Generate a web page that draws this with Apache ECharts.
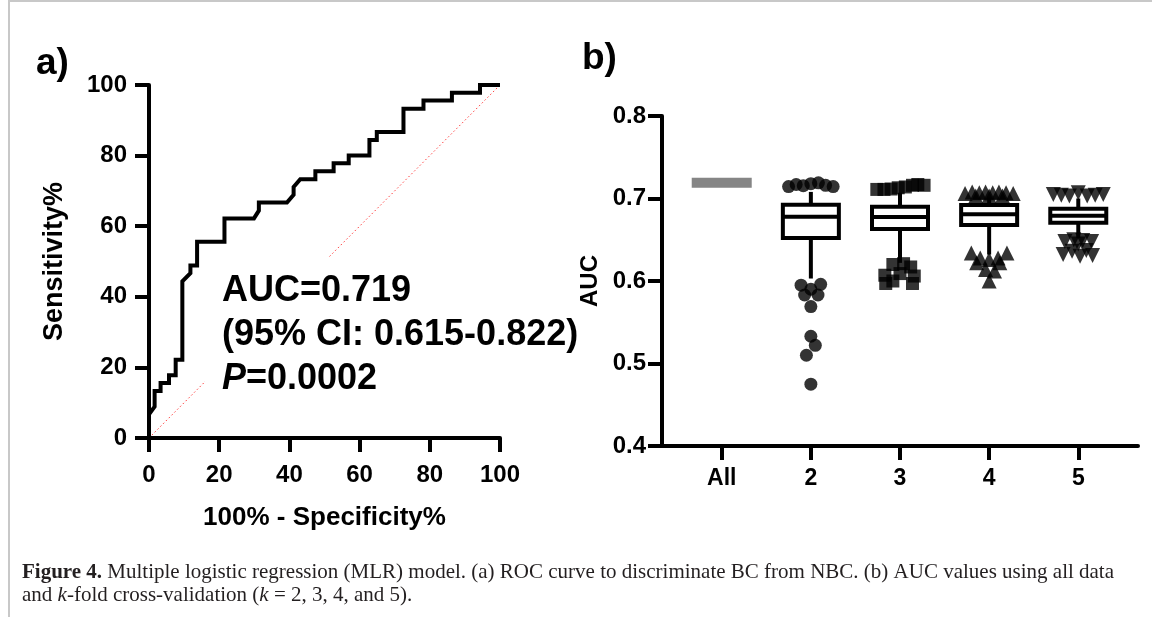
<!DOCTYPE html>
<html>
<head>
<meta charset="utf-8">
<script src="https://cdn.jsdelivr.net/npm/echarts@6.0.0/dist/echarts.min.js"></script>
<style>
  html, body { margin: 0; padding: 0; background: #fff; }
  #chart { width: 1152px; height: 617px; }
</style>
</head>
<body>
<div id="chart"></div>
<script>
// panel a: ROC curve, 100% - specificity vs sensitivity
const rocFpr = [0, 0, 1.6, 1.6, 3.3, 3.3, 5.7, 5.7, 7.6, 7.6, 9.5, 9.5, 11.8, 11.8, 13.7, 13.7,
  21.5, 21.5, 29.9, 31.3, 31.3, 39.3, 41.2, 41.2, 43.1, 47.4, 47.4, 52.6, 52.6, 56.9, 56.9,
  62.8, 62.8, 64.9, 64.9, 72.5, 72.5, 78.2, 78.2, 86.3, 86.3, 94.3, 94.3, 100];
const rocTpr = [0, 6.7, 8.9, 13.3, 13.3, 15.6, 15.6, 17.8, 17.8, 22.2, 22.2, 44.4, 46.7, 48.9, 48.9, 55.6,
  55.6, 62.2, 62.2, 64.4, 66.7, 66.7, 68.9, 71.1, 73.3, 73.3, 75.6, 75.6, 77.8, 77.8, 80,
  80, 84.4, 84.4, 86.7, 86.7, 93.3, 93.3, 95.6, 95.6, 97.8, 97.8, 100, 100];
const chanceLine = [0, 100];

// panel b: AUC, all data and k-fold cross-validation
const foldLabels = ['All', '2', '3', '4', '5'];
const allAuc = 0.719;
const boxK = [2, 3, 4, 5];
// [whisker low, Q1, median, Q3, whisker high]
const boxStats = [
  [0.603, 0.652, 0.678, 0.6925, 0.708],
  [0.622, 0.663, 0.6777, 0.690, 0.707],
  [0.632, 0.668, 0.681, 0.692, 0.701],
  [0.652, 0.6705, 0.679, 0.6875, 0.700]
];
// outliers as [x, AUC] (x = fold position with scatter spread)
const out2 = [[1.75, 0.7145], [1.835, 0.717], [1.915, 0.7155], [2, 0.718], [2.085, 0.719], [2.165, 0.716], [2.25, 0.7145],
  [1.89, 0.595], [2.11, 0.596], [1.93, 0.583], [2.08, 0.583], [2, 0.590], [2, 0.569], [2, 0.533], [2.05, 0.522], [1.95, 0.510], [2, 0.475]];
const out3 = [[2.74, 0.711], [2.82, 0.711], [2.9, 0.7115], [2.98, 0.713], [3.06, 0.714], [3.14, 0.716], [3.2, 0.717], [3.27, 0.716],
  [2.92, 0.620], [3.04, 0.621], [3.12, 0.617], [2.83, 0.607], [3, 0.609], [3.16, 0.606], [2.84, 0.597], [3.14, 0.597], [2.92, 0.600]];
const out4 = [[3.73, 0.706], [3.81, 0.708], [3.89, 0.707], [3.96, 0.708], [4.04, 0.707], [4.11, 0.708], [4.19, 0.707], [4.27, 0.706],
  [3.85, 0.703], [4, 0.703], [4.15, 0.703],
  [3.8, 0.634], [4.2, 0.634], [3.9, 0.628], [4.1, 0.628], [4, 0.626], [3.86, 0.622], [4.12, 0.622], [3.96, 0.614], [4.06, 0.612], [4, 0.600]];
const out5 = [[4.72, 0.705], [4.81, 0.704], [4.9, 0.703], [5, 0.707], [5.1, 0.703], [5.19, 0.704], [5.28, 0.705],
  [4.85, 0.648], [4.95, 0.650], [5.05, 0.649], [5.15, 0.648], [5, 0.645],
  [4.83, 0.632], [5.02, 0.630], [5.16, 0.631], [4.93, 0.636], [5.09, 0.637]];

const FONT = 'Liberation Sans, Arial, sans-serif';
const SERIF = 'Liberation Serif, Times New Roman, serif';
const axisLine = {show: true, onZero: false, lineStyle: {color: '#000', width: 4}};
const axisTick = {show: true, length: 14, lineStyle: {color: '#000', width: 4}};
const tickLabel = {color: '#000', fontSize: 24, fontWeight: 'bold', fontFamily: FONT};

const chart = echarts.init(document.getElementById('chart'));
chart.setOption({
  animation: false,
  backgroundColor: '#fff',
  grid: [
    {left: 149, right: 652, top: 85, bottom: 179},
    {left: 662, right: 14, top: 116, bottom: 171}
  ],
  xAxis: [
    {
      gridIndex: 0, type: 'value', min: 0, max: 100, interval: 20,
      axisLine: axisLine, axisTick: axisTick, splitLine: {show: false},
      axisLabel: Object.assign({margin: 25}, tickLabel),
      name: '100% - Specificity%', nameLocation: 'middle', nameGap: 67,
      nameTextStyle: {color: '#000', fontSize: 26, fontWeight: 'bold', fontFamily: FONT}
    },
    {
      gridIndex: 1, type: 'value', min: 0.33, max: 5.67,
      axisLine: axisLine, splitLine: {show: false},
      axisTick: Object.assign({customValues: foldLabels.map((_, i) => i + 1)}, axisTick),
      axisLabel: Object.assign({
        margin: 21,
        customValues: foldLabels.map((_, i) => i + 1),
        formatter: v => foldLabels[Math.round(v) - 1]
      }, tickLabel, {fontSize: 23})
    }
  ],
  yAxis: [
    {
      gridIndex: 0, type: 'value', min: 0, max: 100, interval: 20,
      axisLine: axisLine, axisTick: axisTick, splitLine: {show: false},
      axisLabel: Object.assign({margin: 22}, tickLabel),
      name: 'Sensitivity%', nameLocation: 'middle', nameGap: 81,
      nameTextStyle: {color: '#000', fontSize: 27, fontWeight: 'bold', fontFamily: FONT}
    },
    {
      gridIndex: 1, type: 'value', min: 0.4, max: 0.8, interval: 0.1,
      axisLine: axisLine, axisTick: axisTick, splitLine: {show: false},
      axisLabel: Object.assign({margin: 16}, tickLabel),
      name: 'AUC', nameLocation: 'middle', nameGap: 60, nameMoveOverlap: false,
      nameTextStyle: {color: '#000', fontSize: 24, fontWeight: 'bold', fontFamily: FONT}
    }
  ],
  series: [
    {
      type: 'line', xAxisIndex: 0, yAxisIndex: 0, z: 1,
      data: chanceLine.map(v => [v, v]),
      symbol: 'none', lineStyle: {color: '#ff3b3b', width: 1, type: [1.5, 2.5]}
    },
    {
      type: 'line', xAxisIndex: 0, yAxisIndex: 0, z: 3,
      data: rocFpr.map((x, i) => [x, rocTpr[i]]),
      symbol: 'none', lineStyle: {color: '#000', width: 4, join: 'miter'}
    },
    {
      type: 'scatter', xAxisIndex: 1, yAxisIndex: 1,
      data: [[1, allAuc]], symbol: 'rect', symbolSize: [60, 10],
      itemStyle: {color: '#666'}
    },
    {
      type: 'custom', xAxisIndex: 1, yAxisIndex: 1, clip: false,
      data: boxK.map((k, i) => [k].concat(boxStats[i])),
      renderItem: function (params, api) {
        const x = api.value(0);
        const lo = api.coord([x, api.value(1)]);
        const q1 = api.coord([x, api.value(2)]);
        const md = api.coord([x, api.value(3)]);
        const q3 = api.coord([x, api.value(4)]);
        const hi = api.coord([x, api.value(5)]);
        const w = 56;
        const st = {stroke: '#000', lineWidth: 4, fill: '#fff'};
        return {
          type: 'group', children: [
            {type: 'line', shape: {x1: lo[0], y1: lo[1], x2: q1[0], y2: q1[1]}, style: st},
            {type: 'line', shape: {x1: q3[0], y1: q3[1], x2: hi[0], y2: hi[1]}, style: st},
            {type: 'rect', shape: {x: q3[0] - w / 2, y: q3[1], width: w, height: q1[1] - q3[1]}, style: st},
            {type: 'line', shape: {x1: md[0] - w / 2, y1: md[1], x2: md[0] + w / 2, y2: md[1]}, style: st}
          ]
        };
      }
    },
    {type: 'scatter', xAxisIndex: 1, yAxisIndex: 1, z: 4, data: out2, symbol: 'circle', symbolSize: 13, itemStyle: {color: '#000'}},
    {type: 'scatter', xAxisIndex: 1, yAxisIndex: 1, z: 4, data: out3, symbol: 'rect', symbolSize: 13, itemStyle: {color: '#000'}},
    {type: 'scatter', xAxisIndex: 1, yAxisIndex: 1, z: 4, data: out4, symbol: 'triangle', symbolSize: 15, itemStyle: {color: '#000'}},
    {type: 'scatter', xAxisIndex: 1, yAxisIndex: 1, z: 4, data: out5, symbol: 'triangle', symbolRotate: 180, symbolSize: 15, itemStyle: {color: '#000'}}
  ],
  graphic: [
    {type: 'line', shape: {x1: 9, y1: 0, x2: 9, y2: 617}, style: {stroke: '#c8c8c8', lineWidth: 2}},
    {type: 'line', shape: {x1: 9, y1: 1, x2: 1152, y2: 1}, style: {stroke: '#c8c8c8', lineWidth: 2}},
    {type: 'text', x: 36, y: 45, style: {text: 'a)', fontSize: 37, fontWeight: 'bold', fontFamily: FONT, fill: '#000'}},
    {type: 'text', x: 582, y: 40, style: {text: 'b)', fontSize: 37, fontWeight: 'bold', fontFamily: FONT, fill: '#000'}},
    {
      type: 'text', x: 205, y: 257, z: 100,
      style: {
        text: '{t|AUC=0.719}\n{t|(95% CI: 0.615-0.822)}\n{i|P}{t|=0.0002}',
        backgroundColor: '#fff', padding: [12, 0, 6, 17],
        fontSize: 36, fontWeight: 'bold', fontFamily: FONT, lineHeight: 44, fill: '#000',
        rich: {
          t: {fontSize: 36, fontWeight: 'bold', fontFamily: FONT, lineHeight: 44, fill: '#000'},
          i: {fontSize: 36, fontWeight: 'bold', fontStyle: 'italic', fontFamily: FONT, lineHeight: 44, fill: '#000'}
        }
      }
    },
    {
      type: 'text', x: 22, y: 561,
      style: {
        text: '{b|Figure 4.}{n| Multiple logistic regression (MLR) model. (a) ROC curve to discriminate BC from NBC. (b) AUC values using all data}\n' +
              '{n|and }{i|k}{n|-fold cross-validation (}{i|k}{n| = 2, 3, 4, and 5).}',
        fontSize: 21, fontFamily: SERIF, lineHeight: 23, fill: '#231f20',
        rich: {
          b: {fontSize: 21, fontWeight: 'bold', fontFamily: SERIF, lineHeight: 23, fill: '#231f20'},
          n: {fontSize: 21, fontFamily: SERIF, lineHeight: 23, fill: '#231f20'},
          i: {fontSize: 21, fontStyle: 'italic', fontFamily: SERIF, lineHeight: 23, fill: '#231f20'}
        }
      }
    }
  ]
});
</script>
</body>
</html>
